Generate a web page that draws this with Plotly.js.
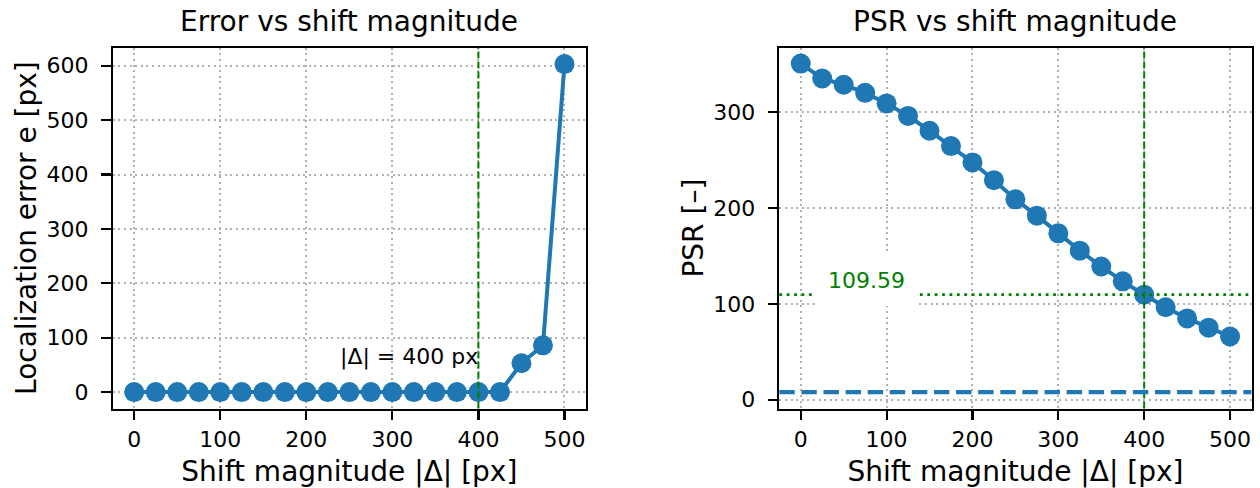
<!DOCTYPE html>
<html>
<head>
<meta charset="utf-8">
<script src="https://cdn.plot.ly/plotly-3.0.1.min.js"></script>
<style>html,body{margin:0;padding:0;background:#fff;}#chart{width:1260px;height:488px;}</style>
</head>
<body>
<div id="chart"></div>
<script>
// ---- data ----
var shiftMagnitude = [0, 25, 50, 75, 100, 125, 150, 175, 200, 225, 250, 275, 300, 325, 350, 375, 400, 425, 450, 475, 500];
var localizationError = [0, 0, 0, 0, 0, 0, 0, 0, 0, 0, 0, 0, 0, 0, 0, 0, 0, 0, 53, 86, 603];
var psrValues = [350.5, 335, 328.5, 320, 309, 296, 280.5, 264.5, 247.5, 229, 209, 192, 173.5, 155.5, 139, 123.5, 109.59, 96.5, 84.8, 75.2, 66];
var psrThreshold = 8;
var referenceShift = 400;
var psrAtReference = 109.59;
var xTickValues = [0, 100, 200, 300, 400, 500];
var errorTickValues = [0, 100, 200, 300, 400, 500, 600];
var psrTickValues = [0, 100, 200, 300];
var titles = ["Error vs shift magnitude", "PSR vs shift magnitude"];
var xLabel = "Shift magnitude |Δ| [px]";
var yLabels = ["Localization error e [px]", "PSR [–]"];
var refLabel = "|Δ| = " + referenceShift + " px";

// ---- styling ----
var FONT = "DejaVu Sans, sans-serif";
var BLUE = "#1f77b4";
var GREEN = "#008000";
var GRID = "#b0b0b0";

var W = 1260, H = 488;
var xDom1 = [112.7 / W, 586 / W];
var xDom2 = [779.3 / W, 1251.5 / W];
var yDom = [(H - 408.5) / H, (H - 47.7) / H];

function xAxis(dom, anchor) {
  return {
    domain: dom, anchor: anchor, range: [-25, 525],
    tickmode: "array", tickvals: xTickValues,
    ticks: "outside", ticklen: 9.5, tickwidth: 2.2, tickcolor: "#000",
    ticklabelstandoff: 0,
    showline: true, mirror: true, linecolor: "#000", linewidth: 2.2,
    showgrid: true, gridcolor: GRID, gridwidth: 2, griddash: "2px,3.6px",
    zeroline: false,
    tickfont: {family: FONT, size: 22, color: "#000"},
    title: {text: xLabel, font: {family: FONT, size: 28, color: "#000"}, standoff: 20}
  };
}
function yAxis(range, tickvals, title, anchor, standoff) {
  return {
    domain: yDom, anchor: anchor, range: range,
    tickmode: "array", tickvals: tickvals,
    ticks: "outside", ticklen: 9.5, tickwidth: 2.2, tickcolor: "#000",
    ticklabelstandoff: 8,
    showline: true, mirror: true, linecolor: "#000", linewidth: 2.2,
    showgrid: true, gridcolor: GRID, gridwidth: 2, griddash: "2px,3.6px",
    zeroline: false,
    tickfont: {family: FONT, size: 22, color: "#000"},
    title: {text: title, font: {family: FONT, size: 28, color: "#000"}, standoff: standoff}
  };
}

var traces = [
  {x: shiftMagnitude, y: localizationError, xaxis: "x", yaxis: "y", type: "scatter", mode: "lines+markers",
   line: {color: BLUE, width: 4}, marker: {color: BLUE, size: 20}, hoverinfo: "x+y"},
  {x: shiftMagnitude, y: psrValues, xaxis: "x2", yaxis: "y2", type: "scatter", mode: "lines+markers",
   line: {color: BLUE, width: 4}, marker: {color: BLUE, size: 20}, hoverinfo: "x+y"}
];

var shapes = [
  {type: "line", xref: "x", yref: "y domain", x0: referenceShift, x1: referenceShift, y0: 0, y1: 1,
   line: {color: GREEN, width: 2, dash: "7px,3px"}, layer: "above"},
  {type: "line", xref: "x2", yref: "y2 domain", x0: referenceShift, x1: referenceShift, y0: 0, y1: 1,
   line: {color: GREEN, width: 2, dash: "7px,3px"}, layer: "above"},
  {type: "line", xref: "x2 domain", yref: "y2", x0: 0, x1: 1, y0: psrAtReference, y1: psrAtReference,
   line: {color: GREEN, width: 2.8, dash: "2.8px,4.6px"}, layer: "above"},
  {type: "line", xref: "x2 domain", yref: "y2", x0: 0, x1: 1, y0: psrThreshold, y1: psrThreshold,
   line: {color: BLUE, width: 4.2, dash: "15.4px,6.7px"}, layer: "above"}
];

var annotations = [
  {text: titles[0], xref: "paper", yref: "paper", x: (xDom1[0] + xDom1[1]) / 2, y: 1 - 21 / H,
   xanchor: "center", yanchor: "middle", showarrow: false, font: {family: FONT, size: 28, color: "#000"}},
  {text: titles[1], xref: "paper", yref: "paper", x: (xDom2[0] + xDom2[1]) / 2, y: 1 - 21 / H,
   xanchor: "center", yanchor: "middle", showarrow: false, font: {family: FONT, size: 28, color: "#000"}},
  {text: refLabel, xref: "x", yref: "y", x: referenceShift, y: 65, xanchor: "right", yanchor: "middle",
   showarrow: false, borderpad: 0, borderwidth: 0, font: {family: FONT, size: 22, color: "#000"}},
  {text: String(psrAtReference), xref: "x2", yref: "y2", x: 76.6, y: 124, xanchor: "center", yanchor: "middle",
   showarrow: false, bgcolor: "#ffffff", borderpad: 13, borderwidth: 0, font: {family: FONT, size: 22, color: GREEN}}
];

var layout = {
  width: W, height: H,
  margin: {l: 0, r: 0, t: 0, b: 0},
  paper_bgcolor: "#fff", plot_bgcolor: "#fff",
  showlegend: false,
  font: {family: FONT, color: "#000"},
  xaxis: xAxis(xDom1, "y"),
  yaxis: yAxis([-30.15, 633.15], errorTickValues, yLabels[0], "x", 2),
  xaxis2: xAxis(xDom2, "y2"),
  yaxis2: yAxis([-9.1, 367.1], psrTickValues, yLabels[1], "x2", 1),
  shapes: shapes,
  annotations: annotations
};

Plotly.newPlot("chart", traces, layout, {staticPlot: true, displayModeBar: false});
</script>
</body>
</html>
